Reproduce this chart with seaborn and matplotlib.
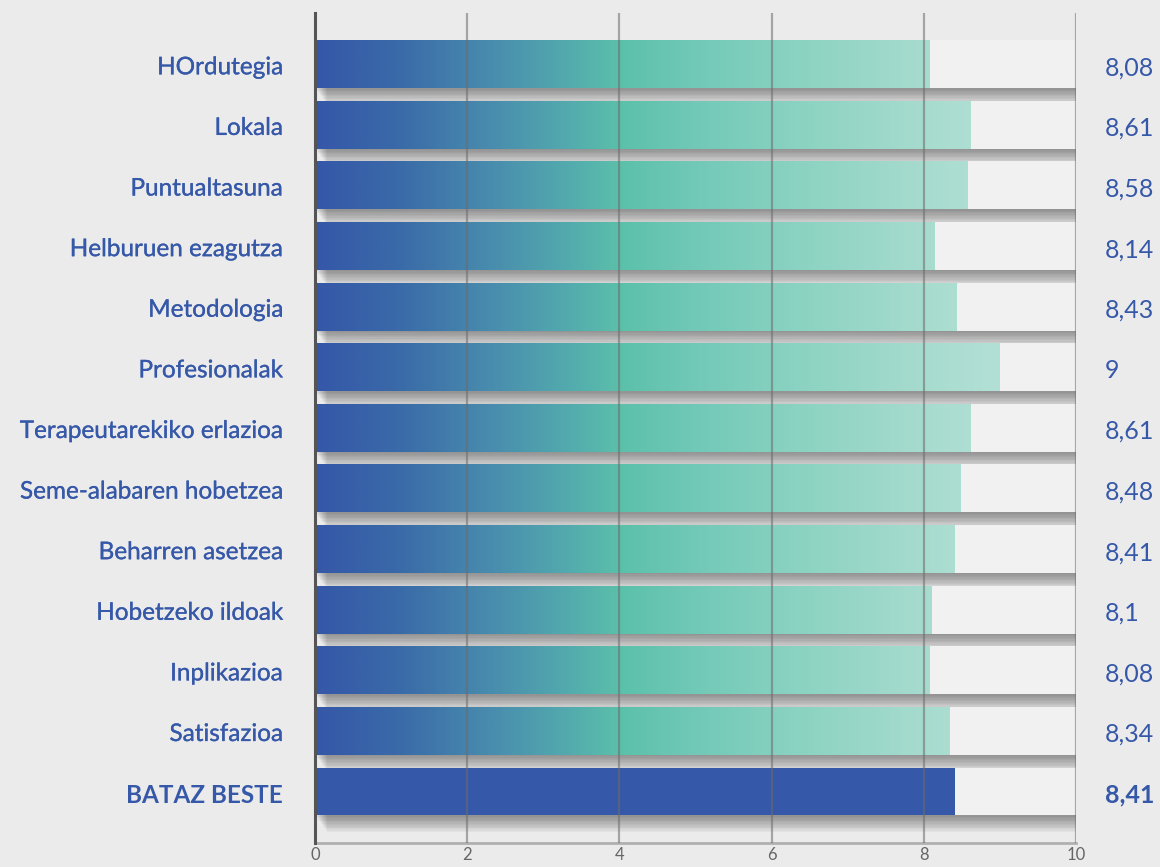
import matplotlib.pyplot as plt
import matplotlib.patheffects as pe
from matplotlib.colors import LinearSegmentedColormap
import numpy as np
import pandas as pd
import seaborn as sns

# Data
categories = ["HOrdutegia", "Lokala", "Puntualtasuna", "Helburuen ezagutza",
              "Metodologia", "Profesionalak", "Terapeutarekiko erlazioa",
              "Seme-alabaren hobetzea", "Beharren asetzea", "Hobetzeko ildoak",
              "Inplikazioa", "Satisfazioa", "BATAZ BESTE"]
values = [8.08, 8.61, 8.58, 8.14, 8.43, 9, 8.61, 8.48, 8.41, 8.1, 8.08, 8.34, 8.41]
value_labels = ["8,08", "8,61", "8,58", "8,14", "8,43", "9", "8,61", "8,48",
                "8,41", "8,1", "8,08", "8,34", "8,41"]
scale_max = 10

df = pd.DataFrame({"cat": categories, "val": values, "full": scale_max})

BLUE = "#3658a8"
BG = "#ebebec"
grad = LinearSegmentedColormap.from_list(
    "g", [(0, "#3557a8"), (0.12, "#3a6aa8"), (0.24, "#4788ad"), (0.36, "#52a8ae"),
          (0.45, "#5cc1aa"), (0.56, "#72c9b7"), (0.7, "#8ad2c1"), (0.9, "#a8dccf"),
          (1.0, "#b3e0d6")])

sns.set_style("white")
plt.rcParams["font.family"] = ["Lato", "DejaVu Sans"]

fig = plt.figure(figsize=(11.6, 8.67), dpi=100, facecolor=BG)
ax = fig.add_axes([0.2716, 0.0277, 0.656, 0.957])
ax.set_facecolor(BG)

# white background bars with soft shadow
sns.barplot(data=df, y="cat", x="full", orient="h", color="#f1f1f1",
            width=0.79, saturation=1, ax=ax, zorder=1)
shadow = [pe.SimplePatchShadow(offset=(o * 0.7, -o), shadow_rgbFace="k", alpha=0.035)
          for o in np.arange(12, 0, -1)] + [pe.Normal()]
for p in ax.patches:
    p.set_path_effects(shadow)
    p.set_linewidth(0)
n_bg = len(ax.patches)

# value bars
sns.barplot(data=df, y="cat", x="val", orient="h", color=BLUE,
            width=0.79, saturation=1, ax=ax, zorder=2)
bars = ax.patches[n_bg:]
grad_img = np.linspace(0, 1, 256).reshape(1, -1)
for p in bars[:-1]:
    p.set_linewidth(0)
    y0 = p.get_y()
    h = p.get_height()
    im = ax.imshow(grad_img, cmap=grad, aspect="auto", zorder=2.5,
                   extent=(0, 9, y0 + h, y0), interpolation="bicubic")
    im.set_clip_path(p)
bars[-1].set_linewidth(0)

ax.set_xlim(0, scale_max)
ax.set_ylim(len(categories) - 1 + 0.85, -0.84)
ax.set_xticks(range(0, 11, 2))
ax.xaxis.grid(True, color="#6b6b6b", alpha=0.55, linewidth=1.6, zorder=3)
ax.set_axisbelow(False)
for ln in ax.get_xgridlines():
    ln.set_zorder(3)

ax.set_xlabel("")
ax.set_ylabel("")
ax.tick_params(axis="x", length=0, pad=3, labelsize=12, labelcolor="#666666")
ax.tick_params(axis="y", length=0, labelleft=False)

# category labels drawn as text (x in axes coords, y in data)
thick = [pe.withStroke(linewidth=0.2, foreground=BLUE)]
for i, cat in enumerate(categories):
    last = i == len(categories) - 1
    ax.text(-0.042, i + 0.06, cat, transform=ax.get_yaxis_transform(),
            ha="right", va="center", fontsize=17.5, color=BLUE,
            fontweight="bold" if last else "normal",
            path_effects=None if last else thick)

for s in ["top", "right"]:
    ax.spines[s].set_visible(False)
ax.spines["left"].set_color("#555555")
ax.spines["left"].set_linewidth(2.2)
ax.spines["left"].set_zorder(4)
ax.spines["bottom"].set_color("#b0b0b0")
ax.spines["bottom"].set_linewidth(2)

for i, lab in enumerate(value_labels):
    last = i == len(value_labels) - 1
    ax.text(scale_max + 0.38, i + 0.06, lab, va="center", ha="left", fontsize=18,
            color=BLUE, fontweight="bold" if last else "normal",
            clip_on=False)

plt.savefig("out.png", dpi=100, facecolor=BG)
